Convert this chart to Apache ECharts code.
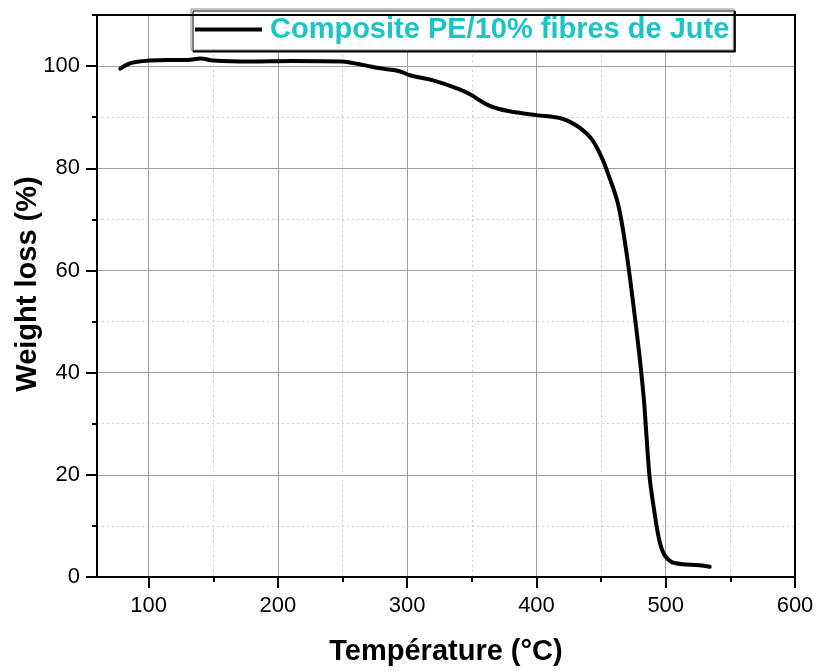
<!DOCTYPE html>
<html>
<head>
<meta charset="utf-8">
<title>ATG Composite PE/10% fibres de Jute</title>
<script src="https://cdn.jsdelivr.net/npm/echarts@6/dist/echarts.min.js"></script>
<style>
  html, body { margin: 0; padding: 0; background: #fff; }
  #chart { width: 819px; height: 671px; }
</style>
</head>
<body>
<div id="chart"></div>
<script>
// Thermogravimetric curve: temperature (°C) vs remaining mass (%)
const temperature = [78, 84, 90, 101, 115, 130, 140, 150, 178, 211, 250, 262, 270, 281, 294, 302, 320, 340, 350, 356, 363, 371, 385, 400, 420, 433, 443, 451, 455, 463, 469, 474.5, 479.5, 483, 485, 487.5, 491, 495, 499, 504, 508, 513, 526, 534];
const weight      = [99.5, 100.4, 100.8, 101.1, 101.2, 101.2, 101.5, 101.1, 100.9, 101.0, 100.9, 100.4, 100.0, 99.5, 99.0, 98.2, 97.2, 95.5, 94.3, 93.3, 92.3, 91.6, 90.9, 90.4, 89.7, 88.0, 85.6, 81.8, 79.2, 73.1, 64.6, 54.2, 43.7, 35.0, 28.0, 19.6, 13.1, 7.2, 4.3, 3.0, 2.7, 2.5, 2.3, 2.0];

const seriesName = 'Composite PE/10% fibres de Jute';
const xTitle = 'Température (°C)';
const yTitle = 'Weight loss (%)';

// Axis ranges and tick positions
const xRange = [60, 600];
const yRange = [0, 110];
const xMajor = [100, 200, 300, 400, 500, 600];
const xMinor = [150, 250, 350, 450, 550];
const yMajor = [0, 20, 40, 60, 80, 100];
const yMinor = [10, 30, 50, 70, 90, 110];

const FONT = "'Liberation Sans', Arial, sans-serif";

const chart = echarts.init(document.getElementById('chart'), null, { renderer: 'canvas' });

const points = temperature.map((t, i) => [t, weight[i]]);

const majorAxisCommon = {
  type: 'value',
  axisLine: { show: true, onZero: false, lineStyle: { color: '#000', width: 2 } },
  axisTick: { show: true, length: 11, lineStyle: { color: '#000', width: 2 } },
  axisLabel: { show: true, color: '#000', fontSize: 22, fontFamily: FONT },
  splitLine: { show: true, lineStyle: { color: '#9e9e9e', width: 1 } }
};
const minorAxisCommon = {
  type: 'value',
  axisLine: { show: false, onZero: false },
  axisTick: { show: true, length: 5, lineStyle: { color: '#000', width: 2 } },
  axisLabel: { show: false },
  splitLine: { show: true, lineStyle: { color: '#cfcfcf', width: 1, type: [2, 3] } }
};
const frameAxisCommon = {
  type: 'value',
  z: 10,
  axisLine: { show: true, onZero: false, lineStyle: { color: '#000', width: 2 } },
  axisTick: { show: false },
  axisLabel: { show: false },
  splitLine: { show: false }
};

chart.setOption({
  animation: false,
  backgroundColor: '#fff',
  grid: { left: 97, right: 24, top: 15, bottom: 94, containLabel: false, outerBoundsMode: 'none' },
  legend: {
    data: [seriesName],
    left: 191,
    top: 9,
    padding: [4, 4, 4, 4],
    icon: 'rect',
    itemWidth: 67,
    itemHeight: 4,
    backgroundColor: '#fff',
    borderColor: '#8a8a8a',
    borderWidth: 1,
    shadowColor: '#000',
    shadowBlur: 0,
    shadowOffsetX: 2,
    shadowOffsetY: 2,
    textStyle: {
      color: '#1bc5c5',
      fontSize: 29,
      fontWeight: 'bold',
      fontFamily: FONT,
      lineHeight: 33,
      padding: [0, 0, 0, 3]
    }
  },
  xAxis: [
    Object.assign({}, majorAxisCommon, {
      min: xRange[0], max: xRange[1], position: 'bottom',
      axisTick: Object.assign({}, majorAxisCommon.axisTick, { customValues: xMajor }),
      axisLabel: Object.assign({}, majorAxisCommon.axisLabel, { customValues: xMajor, margin: 18 }),
      name: xTitle,
      nameLocation: 'middle',
      nameGap: 60,
      nameTextStyle: { color: '#000', fontSize: 29, fontWeight: 'bold', fontFamily: FONT }
    }),
    Object.assign({}, minorAxisCommon, {
      min: xRange[0], max: xRange[1], position: 'bottom',
      axisTick: Object.assign({}, minorAxisCommon.axisTick, { customValues: xMinor })
    }),
    Object.assign({}, frameAxisCommon, { min: xRange[0], max: xRange[1], position: 'top' })
  ],
  yAxis: [
    Object.assign({}, majorAxisCommon, {
      min: yRange[0], max: yRange[1], position: 'left',
      axisTick: Object.assign({}, majorAxisCommon.axisTick, { customValues: yMajor }),
      axisLabel: Object.assign({}, majorAxisCommon.axisLabel, { customValues: yMajor, margin: 17 }),
      name: yTitle,
      nameLocation: 'middle',
      nameGap: 55,
      nameMoveOverlap: false,
      nameTextStyle: { color: '#000', fontSize: 29, fontWeight: 'bold', fontFamily: FONT, padding: [0, 0, 0, 24] }
    }),
    Object.assign({}, minorAxisCommon, {
      min: yRange[0], max: yRange[1], position: 'left',
      axisTick: Object.assign({}, minorAxisCommon.axisTick, { customValues: yMinor })
    }),
    Object.assign({}, frameAxisCommon, { min: yRange[0], max: yRange[1], position: 'right' })
  ],
  series: [{
    name: seriesName,
    type: 'line',
    xAxisIndex: 0,
    yAxisIndex: 0,
    data: points,
    smooth: 0.35,
    showSymbol: false,
    symbol: 'none',
    itemStyle: { color: '#000' },
    lineStyle: { color: '#000', width: 4, cap: 'round', join: 'round' },
    z: 5
  }]
});
</script>
</body>
</html>
